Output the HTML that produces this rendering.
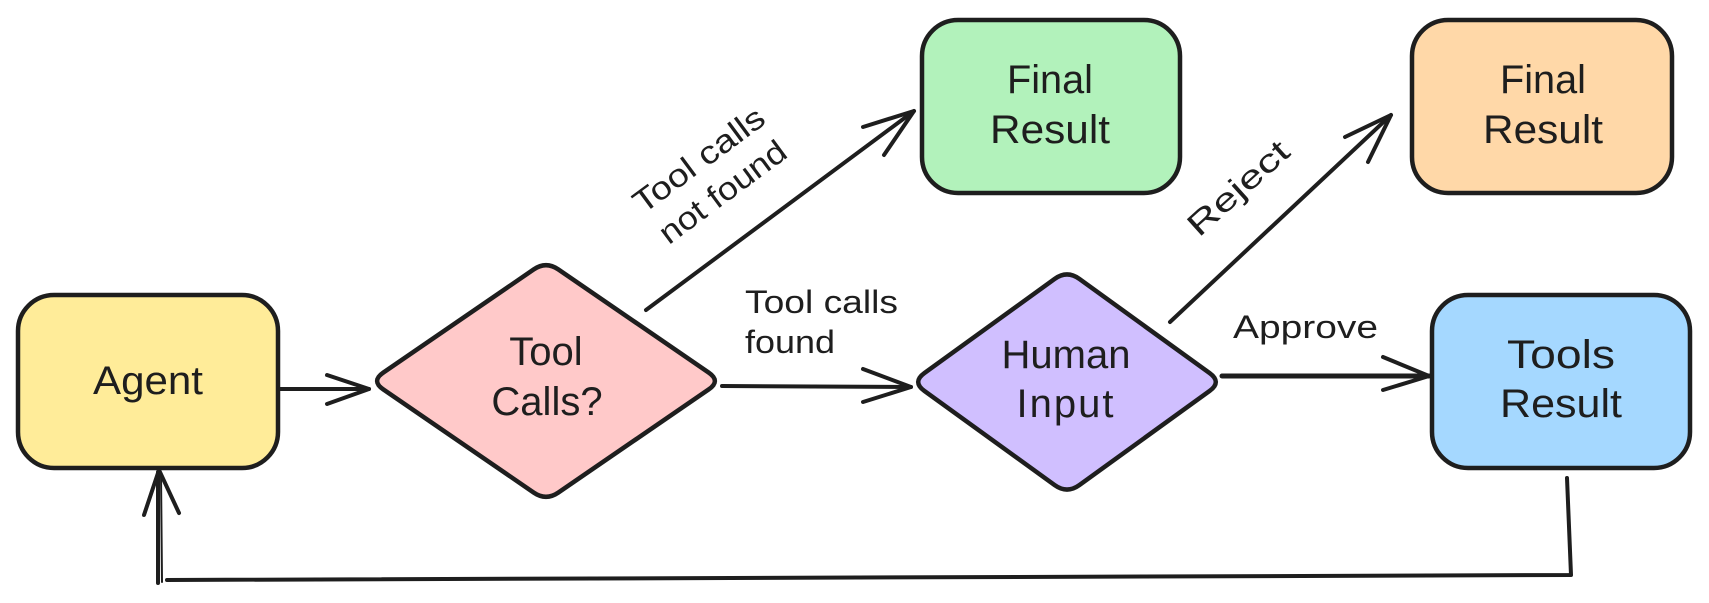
<!DOCTYPE html>
<html>
<head>
<meta charset="utf-8">
<style>
  html, body { margin: 0; padding: 0; background: #ffffff; }
  body { width: 1709px; height: 603px; overflow: hidden; }
  svg { display: block; }
  text { font-family: "Liberation Sans", "DejaVu Sans", sans-serif; fill: #1e1e1e; }
</style>
</head>
<body>
<svg width="1709" height="603" viewBox="0 0 1709 603" xmlns="http://www.w3.org/2000/svg">
  <rect x="0" y="0" width="1709" height="603" fill="#ffffff"/>

  <!-- Nodes -->
  <g stroke="#1e1e1e" stroke-width="4.5" stroke-linejoin="round">
    <!-- Agent -->
    <rect x="18" y="295" width="260" height="173" rx="36" ry="36" fill="#ffec99"/>
    <!-- Final Result (green) -->
    <rect x="922" y="20" width="258" height="173" rx="36" ry="36" fill="#b2f2bb"/>
    <!-- Final Result (orange) -->
    <rect x="1412" y="20" width="260" height="173" rx="36" ry="36" fill="#ffd8a8"/>
    <!-- Tools Result -->
    <rect x="1432" y="295" width="258" height="173" rx="36" ry="36" fill="#a5d8ff"/>
    <!-- Tool Calls? diamond -->
    <path d="M383.25,372.6 L533.75,269.4 Q546,261 558.25,269.4 L708.75,372.6 Q721,381 708.75,389.4 L558.25,492.6 Q546,501 533.75,492.6 L383.25,389.4 Q371,381 383.25,372.6 Z" fill="#ffc9c9"/>
    <!-- Human Input diamond -->
    <path d="M924.4,373.04 L1054.6,278.96 Q1067,270 1079.4,278.96 L1209.6,373.04 Q1222,382 1209.6,390.96 L1079.4,485.04 Q1067,494 1054.6,485.04 L924.4,390.96 Q912,382 924.4,373.04 Z" fill="#d0bfff"/>
  </g>

  <!-- Connectors -->
  <g stroke="#1e1e1e" stroke-width="4" stroke-linecap="round" stroke-linejoin="round" fill="none">
    <!-- Agent -> Tool Calls? -->
    <line x1="280" y1="389" x2="369" y2="389"/>
    <polyline points="327,375 369,389 327,404"/>

    <!-- Tool calls not found -> green -->
    <line x1="646" y1="310" x2="914" y2="111"/>
    <polyline points="863,127 914,111 884,155"/>

    <!-- Tool calls found -> Human Input -->
    <line x1="722" y1="386" x2="911" y2="387"/>
    <polyline points="863,369 911,387 863,402"/>

    <!-- Reject -> orange -->
    <line x1="1170" y1="322" x2="1391" y2="115"/>
    <polyline points="1345,137 1391,115 1368,162"/>

    <!-- Approve -> Tools Result -->
    <line x1="1222" y1="376" x2="1429" y2="376" stroke-width="5"/>
    <polyline points="1383,357 1429,376 1383,390"/>

    <!-- Loop back Tools Result -> Agent -->
    <polyline points="1567,478 1571,575 167,580"/>
    <line x1="158" y1="583" x2="158" y2="472"/>
    <line x1="162" y1="582" x2="161" y2="474" stroke-width="2"/>
    <polyline points="144,515 159,470 179,513"/>
  </g>

  <!-- Node labels -->
  <g font-size="40" text-anchor="middle">
    <text x="148" y="394" textLength="110" lengthAdjust="spacingAndGlyphs">Agent</text>

    <text x="546" y="365">Tool</text>
    <text x="547" y="415">Calls?</text>

    <text x="1050" y="93" textLength="86" lengthAdjust="spacingAndGlyphs">Final</text>
    <text x="1050" y="143" textLength="120" lengthAdjust="spacingAndGlyphs">Result</text>

    <text x="1543" y="93" textLength="86" lengthAdjust="spacingAndGlyphs">Final</text>
    <text x="1543" y="143" textLength="120" lengthAdjust="spacingAndGlyphs">Result</text>

    <text x="1066" y="368">Human</text>
    <text x="1066" y="417" letter-spacing="2">Input</text>

    <text x="1561" y="368" textLength="108" lengthAdjust="spacingAndGlyphs">Tools</text>
    <text x="1561" y="417" textLength="122" lengthAdjust="spacingAndGlyphs">Result</text>
  </g>

  <!-- Edge labels -->
  <g font-size="32">
    <text x="745" y="313" textLength="153" lengthAdjust="spacingAndGlyphs">Tool calls</text>
    <text x="745" y="353" textLength="90" lengthAdjust="spacingAndGlyphs">found</text>

    <text x="1233" y="338" textLength="145" lengthAdjust="spacingAndGlyphs">Approve</text>

    <g transform="translate(710,175) rotate(-36.5)" text-anchor="middle">
      <text x="0" y="-8" textLength="155" lengthAdjust="spacingAndGlyphs">Tool calls</text>
      <text x="0" y="32" textLength="150" lengthAdjust="spacingAndGlyphs">not found</text>
    </g>

    <g transform="translate(1238,188) rotate(-42)" text-anchor="middle">
      <text x="0" y="11" textLength="125" lengthAdjust="spacingAndGlyphs">Reject</text>
    </g>
  </g>
</svg>
</body>
</html>
